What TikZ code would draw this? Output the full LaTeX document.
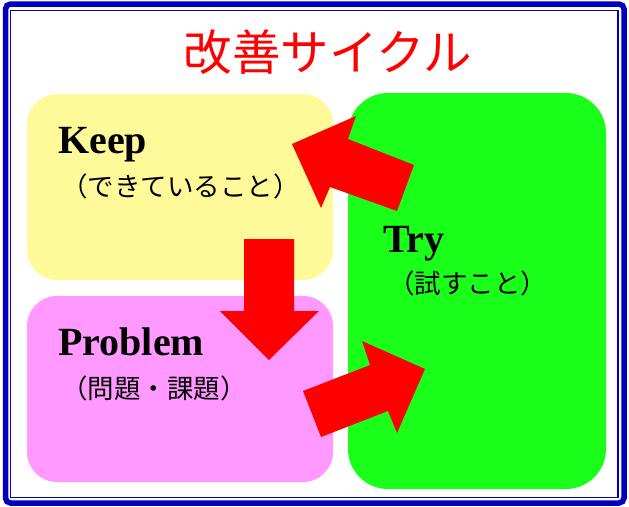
\documentclass[tikz,border=0pt]{standalone}
\usepackage{fontspec}
\setmainfont{Liberation Serif}
\newfontfamily\jpfont{Noto Sans CJK JP}
\definecolor{frameblue}{RGB}{0,0,190}
\definecolor{keepyellow}{RGB}{255,250,153}
\definecolor{probpink}{RGB}{255,153,255}
\definecolor{trygreen}{RGB}{26,255,26}
\definecolor{arrowred}{RGB}{255,0,0}
\begin{document}
\begin{tikzpicture}[x=1pt,y=-1pt,
  box/.style={draw=none,inner sep=0pt,minimum width=306pt,minimum height=186pt,rounded corners=30pt},
  head/.style={font=\bfseries\fontsize{40}{40}\selectfont,inner sep=0pt,anchor=base west},
  sub/.style={font=\jpfont\fontsize{26.5}{26.5}\selectfont,inner sep=0pt,anchor=west},
  blockarrow/.style={fill=arrowred,draw=none}]
\useasboundingbox (0,0) rectangle (629,506);
\fill[white] (0,0) rectangle (629,506);
\draw[frameblue,line width=5.5pt,rounded corners=5pt] (5.5,4) rectangle (624,503);
\draw[frameblue,line width=1.5pt] (10.5,10.5) rectangle (618,497.5);
% title
\node[text=arrowred,font=\jpfont\fontsize{48.5}{48.5}\selectfont,inner sep=0pt] (title) at (328,52) {改善サイクル};
% boxes
\node[box,fill=keepyellow] (keep) at (180,187) {};
\node[box,fill=probpink] (problem) at (180,389) {};
\node[box,fill=trygreen,minimum width=258pt,minimum height=396pt,rounded corners=40pt] (try) at (477,291) {};
% labels
\node[head] (keeplbl) at (58,153) {Keep};
\node[sub] (keepsub) at (61,186.5) {（できていること）};
\node[head] (trylbl) at (383,252) {Try};
\node[sub] (trysub) at (388,283.5) {（試すこと）};
\node[head] (problbl) at (58,355) {Problem};
\node[sub] (probsub) at (61,388.5) {（問題・課題）};
% block arrows
\coordinate (a1tip) at (292,144);
\coordinate (a2tip) at (269,360);
\coordinate (a3tip) at (425,369);
\fill[blockarrow] (a1tip) -- (356,116) -- (348,139) -- (414,165) -- (397,211) -- (330,187) -- (321,208) -- cycle;
\fill[blockarrow] (244,239) -- (294,239) -- (294,311) -- (319,311) -- (a2tip) -- (220,311) -- (244,311) -- cycle;
\fill[blockarrow] (303,391) -- (370,365) -- (362,341) -- (a3tip) -- (397,433) -- (388,411) -- (321,437) -- cycle;
\end{tikzpicture}
\end{document}
